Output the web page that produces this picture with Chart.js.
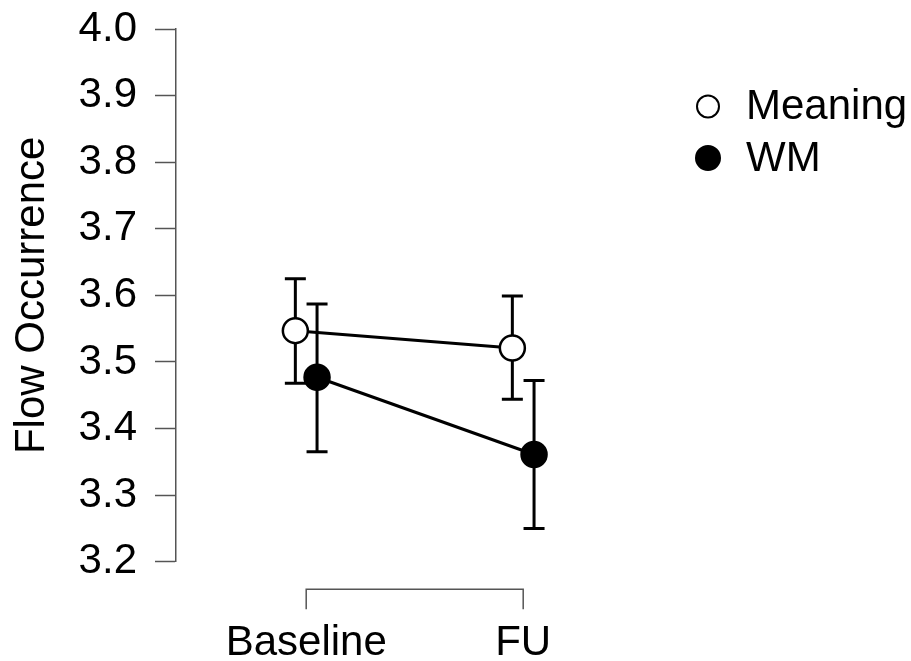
<!DOCTYPE html>
<html>
<head>
<meta charset="utf-8">
<script src="https://cdn.jsdelivr.net/npm/chart.js@4.4.1/dist/chart.umd.min.js"></script>
<style>
  html, body { margin: 0; padding: 0; background: #fff; }
</style>
</head>
<body>
<canvas id="flowChart" width="911" height="661"></canvas>
<script>
// data
const categories = ['Baseline', 'FU'];
const seriesNames = ['Meaning', 'WM'];
const meaningMean  = [3.547, 3.521];
const meaningLower = [3.468, 3.444];
const meaningUpper = [3.625, 3.599];
const wmMean  = [3.477, 3.361];
const wmLower = [3.365, 3.250];
const wmUpper = [3.587, 3.472];
const yTickLabels = ['3.2', '3.3', '3.4', '3.5', '3.6', '3.7', '3.8', '3.9', '4.0'];

const FONT = "'Liberation Sans', Arial, sans-serif";
const FONT_SIZE = 42;
const AXIS_GREY = '#555';
const dodge = 0.05;

function toPoints(means, shift) {
    return means.map((m, i) => ({ x: i + 1 + shift, y: m }));
}

// error bars go under the points
const errorBars = {
    id: 'errorBars',
    beforeDatasetsDraw(chart) {
        const ctx = chart.ctx, xs = chart.scales.x, ys = chart.scales.y;
        ctx.save();
        ctx.strokeStyle = '#000';
        ctx.lineWidth = 3;
        chart.data.datasets.forEach(ds => {
            ds.data.forEach((p, i) => {
                const px = xs.getPixelForValue(p.x);
                const top = ys.getPixelForValue(ds.upper[i]);
                const bot = ys.getPixelForValue(ds.lower[i]);
                ctx.beginPath();
                ctx.moveTo(px, top); ctx.lineTo(px, bot);
                ctx.moveTo(px - 10.5, top); ctx.lineTo(px + 10.5, top);
                ctx.moveTo(px - 10.5, bot); ctx.lineTo(px + 10.5, bot);
                ctx.stroke();
            });
        });
        ctx.restore();
    }
};

// R style bracket for the x axis, only between the two categories
const xBracket = {
    id: 'xBracket',
    afterDraw(chart) {
        const ctx = chart.ctx, xs = chart.scales.x;
        const x1 = xs.getPixelForValue(1), x2 = xs.getPixelForValue(categories.length);
        const y = chart.chartArea.bottom + 27.5;
        ctx.save();
        ctx.strokeStyle = AXIS_GREY;
        ctx.lineWidth = 1.5;
        ctx.beginPath();
        ctx.moveTo(x1, y + 20); ctx.lineTo(x1, y);
        ctx.lineTo(x2, y); ctx.lineTo(x2, y + 20);
        ctx.stroke();
        ctx.restore();
    }
};

const sideLegend = {
    id: 'sideLegend',
    afterDraw(chart) {
        const ctx = chart.ctx;
        ctx.save();
        ctx.font = FONT_SIZE + 'px ' + FONT;
        ctx.textBaseline = 'middle';
        ctx.textAlign = 'left';
        chart.data.datasets.forEach((ds, i) => {
            const cy = 106.5 + i * 51.5;
            ctx.beginPath();
            ctx.arc(708, cy, ds.pointBackgroundColor === '#fff' ? 11 : 12, 0, Math.PI * 2);
            ctx.fillStyle = ds.pointBackgroundColor;
            ctx.fill();
            ctx.lineWidth = 2;
            ctx.strokeStyle = '#000';
            ctx.stroke();
            ctx.fillStyle = '#000';
            ctx.fillText(ds.label, 746, cy + 1);
        });
        ctx.restore();
    }
};

const config = {
    type: 'line',
    data: {
        datasets: [
            {
                label: seriesNames[0],
                data: toPoints(meaningMean, -dodge),
                lower: meaningLower,
                upper: meaningUpper,
                borderColor: '#000',
                borderWidth: 3,
                pointRadius: 12.5,
                pointBackgroundColor: '#fff',
                pointBorderColor: '#000',
                pointBorderWidth: 2.5,
                fill: false,
                clip: false
            },
            {
                label: seriesNames[1],
                data: toPoints(wmMean, dodge),
                lower: wmLower,
                upper: wmUpper,
                borderColor: '#000',
                borderWidth: 3,
                pointRadius: 12.5,
                pointBackgroundColor: '#000',
                pointBorderColor: '#000',
                pointBorderWidth: 2.5,
                fill: false,
                clip: false
            }
        ]
    },
    options: {
        responsive: false,
        animation: false,
        devicePixelRatio: 1,
        layout: { padding: { top: 29, right: 257.6, left: 0, bottom: 0 } },
        plugins: {
            legend: { display: false },
            tooltip: { enabled: false }
        },
        scales: {
            x: {
                type: 'linear',
                min: 0.4,
                max: 2.6,
                afterBuildTicks: s => { s.ticks = categories.map((c, i) => ({ value: i + 1 })); },
                afterFit: s => { s.height = 99.3; s.paddingLeft = 0; s.paddingRight = 0; },
                ticks: {
                    callback: v => categories[Math.round(v) - 1],
                    font: { family: FONT, size: FONT_SIZE },
                    color: '#000',
                    padding: 57,
                    maxRotation: 0,
                    autoSkip: false
                },
                grid: { display: false, drawTicks: false },
                border: { display: false }
            },
            y: {
                min: 3.2,
                max: 4.0,
                afterBuildTicks: s => { s.ticks = yTickLabels.map(t => ({ value: parseFloat(t) })); },
                afterFit: s => { s.width = 176; s.paddingTop = 0; s.paddingBottom = 0; },
                ticks: {
                    callback: v => v.toFixed(1),
                    font: { family: FONT, size: FONT_SIZE },
                    color: '#000',
                    padding: 18
                },
                grid: {
                    drawOnChartArea: false,
                    drawTicks: true,
                    tickLength: 21,
                    tickColor: AXIS_GREY,
                    tickWidth: 1.5
                },
                border: { color: AXIS_GREY, width: 1.5 },
                title: {
                    display: true,
                    text: 'Flow Occurrence',
                    font: { family: FONT, size: FONT_SIZE },
                    color: '#000',
                    padding: { top: 7, bottom: 0 }
                }
            }
        }
    },
    plugins: [errorBars, xBracket, sideLegend]
};

const ctx = document.getElementById('flowChart').getContext('2d');
const flowChart = new Chart(ctx, config);
</script>
</body>
</html>
